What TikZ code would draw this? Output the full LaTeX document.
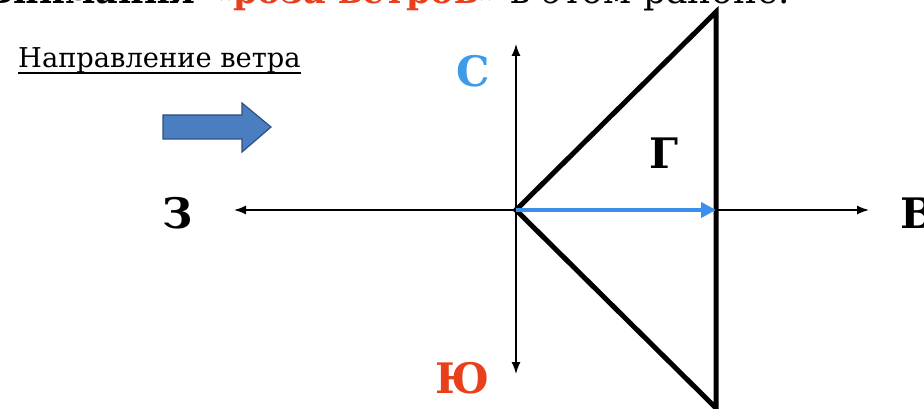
\documentclass[tikz,border=0pt]{standalone}
\usepackage{fontspec}
\setmainfont{DejaVu Serif}
\usetikzlibrary{arrows.meta,calc}
\definecolor{redtxt}{HTML}{E8401C}
\definecolor{bluetxt}{HTML}{3D9BE9}
\definecolor{arrowblue}{HTML}{3B8EEA}
\definecolor{blockfill}{HTML}{4A7EC0}
\definecolor{blockedge}{HTML}{2F4F7F}
\tikzset{
  lbl/.style={inner sep=0pt, anchor=base, font=\fontsize{42}{46}\selectfont\bfseries},
  toptxt/.style={inner sep=0pt, anchor=base west, font=\fontsize{36}{40}\selectfont},
  topbold/.style={toptxt, font=\fontsize{35}{40}\selectfont\bfseries},
  headtxt/.style={inner sep=0pt, anchor=base west, font=\fontsize{27.3}{31}\selectfont},
  axis/.style={line width=1.4pt, {Latex[length=12pt,width=9pt]}-{Latex[length=12pt,width=9pt]}},
  tri/.style={line width=5pt, line join=miter},
  wind/.style={line width=4pt, draw=arrowblue, -{Triangle[length=15pt,width=15pt]}}
}
\begin{document}
\begin{tikzpicture}[x=1pt,y=-1pt]
\useasboundingbox (0,0) rectangle (924,409);
\clip (0,0) rectangle (924,409);
% clipped top line
\node[topbold, anchor=base east] (t1) at (196,4) {Внимания};
\node[topbold, text=redtxt] (t2) at (211,4) {«роза ветров»};
\node[toptxt] (t3) at (510,4) {в этом районе.};
% heading
\node[headtxt] (head) at (18,68) {Направление ветра};
\draw[line width=1.8pt] ($(head.base west)+(0,5)$) -- ($(head.base east)+(0,5)$);
% block arrow
\filldraw[fill=blockfill, draw=blockedge, line width=1.2pt]
  (163,115) -- (242,115) -- (242,103) -- (271,127) -- (242,152) -- (242,139) -- (163,139) -- cycle;
% axes
\coordinate (O) at (516,210);
\coordinate (N) at (516,44);
\coordinate (S) at (516,374);
\coordinate (W) at (234,210);
\coordinate (E) at (869,210);
\draw[axis] (W) -- (E);
\draw[axis] (S) -- (N);
% triangle
\coordinate (TA) at (716,12);
\coordinate (TB) at (716,408);
\draw[tri] (TA) -- (O) -- (TB) -- cycle;
% wind vector
\coordinate (P) at (716,210);
\draw[wind] (O) -- (P);
% labels
\node[lbl] (west) at (178,228) {З};
\node[lbl, anchor=base west] (east) at (900,228) {В};
\node[lbl, text=bluetxt] (north) at (473,87) {С};
\node[lbl, text=redtxt] (south) at (463,393) {Ю};
\node[lbl] (gamma) at (664,168) {Г};
\end{tikzpicture}
\end{document}
